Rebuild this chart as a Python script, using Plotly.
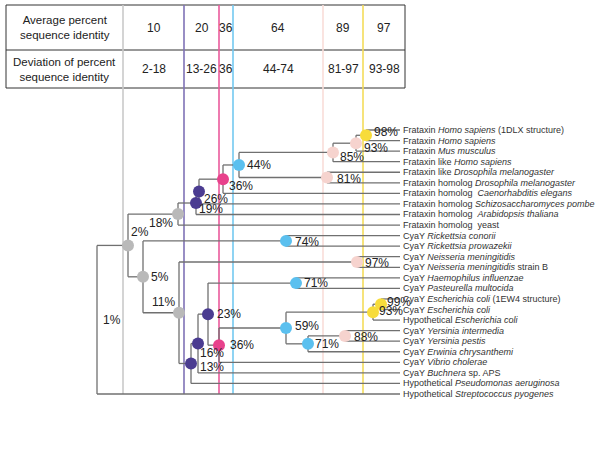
import plotly.graph_objects as go

# ---------------- data ----------------
leaf_labels = [
    "Frataxin <i>Homo sapiens</i> (1DLX structure)",
    "Frataxin <i>Homo sapiens</i>",
    "Frataxin <i>Mus musculus</i>",
    "Frataxin like <i>Homo sapiens</i>",
    "Frataxin like <i>Drosophila melanogaster</i>",
    "Frataxin homolog <i>Drosophila melanogaster</i>",
    "Frataxin homolog &nbsp;<i>Caenorhabditis elegans</i>",
    "Frataxin homolog <i>Schizosaccharomyces pombe</i>",
    "Frataxin homolog &nbsp;<i>Arabidopsis thaliana</i>",
    "Frataxin homolog &nbsp;yeast",
    "CyaY <i>Rickettsia conorii</i>",
    "CyaY <i>Rickettsia prowazekii</i>",
    "CyaY <i>Neisseria meningitidis</i>",
    "CyaY <i>Neisseria meningitidis</i> strain B",
    "CyaY <i>Haemophilus influenzae</i>",
    "CyaY <i>Pasteurella multocida</i>",
    "CyaY <i>Escherichia coli</i> (1EW4 structure)",
    "CyaY <i>Escherichia coli</i>",
    "Hypothetical <i>Escherichia coli</i>",
    "CyaY <i>Yersinia intermedia</i>",
    "CyaY <i>Yersinia pestis</i>",
    "CyaY <i>Erwinia chrysanthemi</i>",
    "CyaY <i>Vibrio cholerae</i>",
    "CyaY <i>Buchnera</i> sp. APS",
    "Hypothetical <i>Pseudomonas aeruginosa</i>",
    "Hypothetical <i>Streptococcus pyogenes</i>",
]

node_names = ["A", "B", "C", "D", "E", "F", "G", "H", "I",
              "R", "N", "Hi", "Ec99", "Ec93", "Y88", "Y71", "P59", "P36",
              "P23", "P16", "P13", "P11", "K", "J", "root"]
node_children = [[0, 1], ["A", 2], ["B", 3], [4, 5], ["C", "D"], ["E", 6],
                 ["F", 7], ["G", 8], ["H", 9],
                 [10, 11], [12, 13], [14, 15], [16, 17], ["Ec99", 18],
                 [19, 20], ["Y88", 21], ["Ec93", "Y71"], ["P59", 22],
                 ["Hi", "P36"], ["P23", 23], ["P16", 24], ["N", "P13"],
                 ["R", "P11"], ["I", "K"], ["J", 25]]
# horizontal position of each node on the tree's depth scale
node_depth = [366, 356, 333, 327, 239, 223, 199, 196, 178,
              286, 357, 296, 381, 373, 345, 308, 286, 219,
              208, 198, 191, 179, 143, 128, 97]
node_identity = [98, 93, 85, 81, 44, 36, 26, 19, 18,
                 74, 97, 71, 99, 93, 88, 71, 59, 36,
                 23, 16, 13, 11, 5, 2, 1]
node_group = ["yellow", "lightpink", "lightpink", "lightpink", "blue", "pink",
              "purple", "purple", "gray",
              "blue", "lightpink", "blue", "yellow", "yellow", "lightpink",
              "blue", "blue", "pink", "purple", "purple", "purple", "gray",
              "gray", "gray", None]

level_group = ["gray", "purple", "pink", "blue", "lightpink", "yellow"]
level_avg = ["10", "20", "36", "64", "89", "97"]
level_dev = ["2-18", "13-26", "36", "44-74", "81-97", "93-98"]
level_depth = [123, 184, 219, 233, 323, 363]

# ---------------- style ----------------
circle_colors = {"gray": "#b9b9b9", "purple": "#4b3c91", "pink": "#e8428c",
                 "blue": "#5bc0ef", "lightpink": "#f6d3ce", "yellow": "#f7dc3a"}
line_colors = {"gray": "#cacaca", "purple": "#7f72b6", "pink": "#ea5a9c",
               "blue": "#73c9f0", "lightpink": "#f9ddd9", "yellow": "#f4dc5a"}
# label offsets (dx, dy, anchor) per node
label_pos = {
    "A": (6, -3, "left"), "B": (6, 5, "left"), "C": (5, 5, "left"),
    "D": (8, 1, "left"), "E": (6, 0, "left"), "F": (4, 7, "left"),
    "G": (3, 7, "left"), "H": (1, 6, "left"), "I": (-3, 9, "right"),
    "R": (7, 1, "left"), "N": (6, 1, "left"), "Hi": (6, 0, "left"),
    "Ec99": (4, -2, "left"), "Ec93": (4, -1, "left"), "Y88": (7, 1, "left"),
    "Y71": (5, 0, "left"), "P59": (7, -2, "left"), "P36": (9, 0, "left"),
    "P23": (7, 0, "left"), "P16": (0, 9, "left"), "P13": (7, 4, "left"),
    "P11": (-2, -11, "right"), "K": (6, 0, "left"), "J": (1, -13, "left"),
    "root": (4, 0, "left"),
}

ROW_TOP, ROW_STEP = 130, 10.56
LEAF_END = 400
TABLE_L, TABLE_R, TABLE_T, TABLE_MID, TABLE_B = 6, 405, 5, 50, 88
LINES_BOTTOM = 394

# ---------------- layout computation ----------------
idx = {n: i for i, n in enumerate(node_names)}
ypos = {}


def get_y(c):
    if isinstance(c, int):
        return ROW_TOP + c * ROW_STEP
    if c not in ypos:
        ys = [get_y(k) for k in node_children[idx[c]]]
        ypos[c] = (min(ys) + max(ys)) / 2
    return ypos[c]


def get_x(c):
    return LEAF_END if isinstance(c, int) else node_depth[idx[c]]


for n in node_names:
    get_y(n)

fig = go.Figure()

# colored identity-level lines
for g, lx in zip(level_group, level_depth):
    fig.add_trace(go.Scatter(x=[lx, lx], y=[TABLE_T, LINES_BOTTOM], mode="lines",
                             line=dict(color=line_colors[g], width=1.6),
                             hoverinfo="skip", showlegend=False))

# tree lines
tx, ty = [], []
for n, ch, d in zip(node_names, node_children, node_depth):
    ys = [get_y(c) for c in ch]
    tx += [d, d, None]
    ty += [min(ys), max(ys), None]
    for c in ch:
        tx += [d, get_x(c), None]
        ty += [get_y(c), get_y(c), None]
fig.add_trace(go.Scatter(x=tx, y=ty, mode="lines",
                         line=dict(color="#707070", width=1.3),
                         hoverinfo="skip", showlegend=False))

# node circles
for g in level_group:
    xs = [d for d, gg in zip(node_depth, node_group) if gg == g]
    ys = [ypos[n] for n, gg in zip(node_names, node_group) if gg == g]
    fig.add_trace(go.Scatter(x=xs, y=ys, mode="markers",
                             marker=dict(size=12, color=circle_colors[g],
                                         line=dict(width=0)),
                             hoverinfo="skip", showlegend=False))

annotations = []
# percent labels
for n, d, p in zip(node_names, node_depth, node_identity):
    dx, dy, anc = label_pos[n]
    annotations.append(dict(x=d + dx, y=ypos[n] + dy, text=f"{p}%",
                            xanchor=anc, yanchor="middle", showarrow=False,
                            font=dict(size=12, color="#222222")))
# leaf labels
for i, lab in enumerate(leaf_labels):
    annotations.append(dict(x=LEAF_END + 1, y=get_y(i), text=lab,
                            xanchor="left", yanchor="middle", showarrow=False,
                            font=dict(size=9, color="#333333")))

# table
row1_y = (TABLE_T + TABLE_MID) / 2
row2_y = (TABLE_MID + TABLE_B) / 2
head_x = (TABLE_L + level_depth[0]) / 2
annotations.append(dict(x=head_x, y=row1_y, text="Average percent<br>sequence identity",
                        showarrow=False, font=dict(size=11.5, color="#222222")))
annotations.append(dict(x=head_x, y=row2_y, text="Deviation of percent<br>sequence identity",
                        showarrow=False, font=dict(size=11.5, color="#222222")))
bounds = level_depth + [TABLE_R]
for i in range(len(level_avg)):
    cx = (bounds[i] + bounds[i + 1]) / 2
    annotations.append(dict(x=cx, y=row1_y, text=level_avg[i], showarrow=False,
                            font=dict(size=12, color="#222222")))
    annotations.append(dict(x=cx, y=row2_y, text=level_dev[i], showarrow=False,
                            font=dict(size=12, color="#222222")))

shapes = [
    dict(type="rect", x0=TABLE_L, x1=TABLE_R, y0=TABLE_T, y1=TABLE_B,
         line=dict(color="#333333", width=1), layer="below"),
    dict(type="line", x0=TABLE_L, x1=TABLE_R, y0=TABLE_MID, y1=TABLE_MID,
         line=dict(color="#333333", width=1), layer="below"),
]

W, H = 600, 467
fig.update_layout(
    width=W, height=H,
    margin=dict(l=0, r=0, t=0, b=0, pad=0),
    paper_bgcolor="white", plot_bgcolor="white",
    xaxis=dict(range=[0, W], visible=False, fixedrange=True),
    yaxis=dict(range=[H, 0], visible=False, fixedrange=True),
    font=dict(family="Liberation Sans, Arial, sans-serif"),
    annotations=annotations, shapes=shapes, showlegend=False,
    hovermode=False,
)

fig.write_html("out.html",
               config={"displayModeBar": False, "staticPlot": True},
               post_script="document.body.style.margin='0';document.body.style.overflow='hidden';")
